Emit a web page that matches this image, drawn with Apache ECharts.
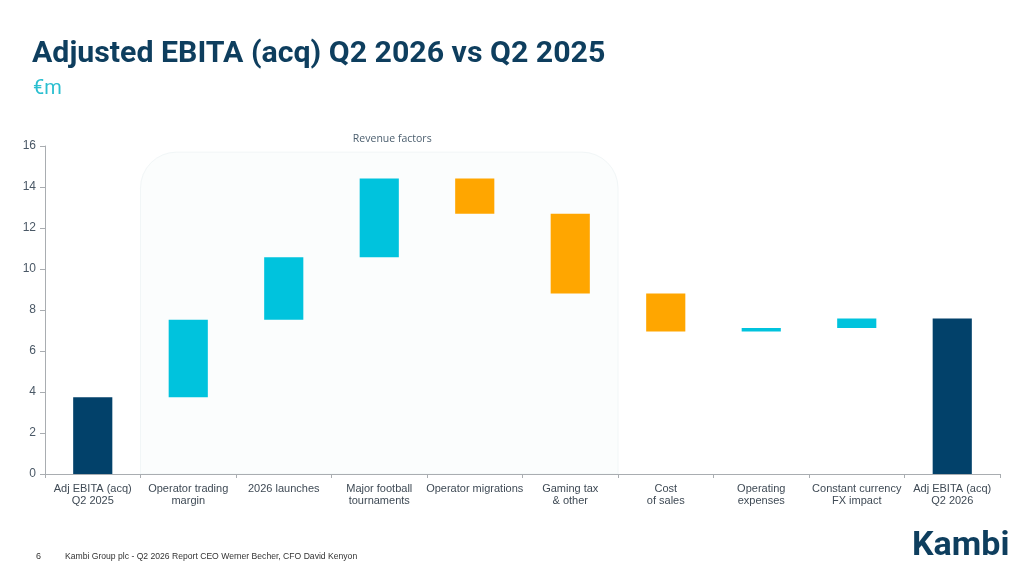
<!DOCTYPE html>
<html>
<head>
<meta charset="utf-8">
<script src="https://cdn.jsdelivr.net/npm/echarts@6/dist/echarts.min.js"></script>
<style>
html,body{margin:0;padding:0;background:#fff;}
#chart{width:1024px;height:577px;}
</style>
</head>
<body>
<div id="chart"></div>
<script>
// ---- data ----
var categories = [
  'Adj EBITA (acq)\nQ2 2025',
  'Operator trading\nmargin',
  '2026 launches',
  'Major football\ntournaments',
  'Operator migrations',
  'Gaming tax\n& other',
  'Cost\nof sales',
  'Operating\nexpenses',
  'Constant currency\nFX impact',
  'Adj EBITA (acq)\nQ2 2026'
];
// bar start and end levels (€m)
var startLevels = [0,    3.75, 7.53, 10.57, 14.41, 12.70, 8.81, 6.95, 7.12, 0];
var endLevels   = [3.75, 7.53, 10.57, 14.41, 12.70, 8.81, 6.95, 7.12, 7.59, 7.59];
var barKinds    = ['total','up','up','up','down','down','down','up','up','total'];
var yTicks = [0, 2, 4, 6, 8, 10, 12, 14, 16];

var colors = {total:'#02416a', up:'#00c3dd', down:'#ffa600'};

var helper = startLevels.map(function(s,i){ return Math.min(s, endLevels[i]); });
var visible = startLevels.map(function(s,i){
  return {value: Math.abs(endLevels[i]-s), itemStyle:{color: colors[barKinds[i]]}};
});

var chart = echarts.init(document.getElementById('chart'));
var option = {
  animation:false,
  backgroundColor:'#ffffff',
  grid:{left:45, right:24, top:146, bottom:103, containLabel:false},
  xAxis:{
    type:'category',
    data:categories,
    axisLine:{lineStyle:{color:'#a9adb1', width:1}},
    axisTick:{show:true, length:4, lineStyle:{color:'#a9adb1'}},
    axisLabel:{interval:0, color:'#3f4a55', fontSize:11, fontFamily:'Liberation Sans, Arial, sans-serif', lineHeight:12, margin:9}
  },
  yAxis:{
    type:'value', min:yTicks[0], max:yTicks[yTicks.length-1], interval:2,
    axisLine:{show:true, lineStyle:{color:'#a9adb1'}},
    axisTick:{show:true, length:5, lineStyle:{color:'#a9adb1'}},
    splitLine:{show:false},
    axisLabel:{color:'#4a5866', fontSize:12, fontFamily:'Liberation Sans, Arial, sans-serif', margin:9}
  },
  series:[
    {type:'bar', stack:'w', data:helper, barWidth:'41%', itemStyle:{color:'rgba(0,0,0,0)'}, silent:true},
    {type:'bar', stack:'w', data:visible, barWidth:'41%'}
  ]
};
chart.setOption(option);

// decorative "Revenue factors" panel, positioned from the axis scale
var c1 = chart.convertToPixel({xAxisIndex:0}, 1);
var c2 = chart.convertToPixel({xAxisIndex:0}, 2);
var c5 = chart.convertToPixel({xAxisIndex:0}, 5);
var band = c2 - c1;
var yTop = chart.convertToPixel({yAxisIndex:0}, 15.7);
var yBot = chart.convertToPixel({yAxisIndex:0}, 0);
var boxL = c1 - band/2, boxR = c5 + band/2;

chart.setOption({
  graphic:[
    {type:'rect', z:-1, shape:{x:boxL, y:yTop, width:boxR-boxL, height:yBot-yTop, r:[36,36,0,0]},
     style:{fill:'#fbfdfd', stroke:'#f1f6f7', lineWidth:1}},
    {type:'text', x:(boxL+boxR)/2 + 13, y:139, style:{text:'Revenue factors', fill:'#4b5e6e', font:'10.5px "Open Sans", sans-serif', align:'center', verticalAlign:'middle'}},
    {type:'text', x:32, y:54, style:{text:'Adjusted EBITA (acq) Q2 2026 vs Q2 2025', fill:'#0e3e5e', font:'bold 30.3px Roboto, sans-serif', verticalAlign:'middle'}},
    {type:'text', x:33, y:89, style:{text:'€m', fill:'#2bbfd0', font:'20px Roboto, sans-serif', verticalAlign:'middle'}},
    {type:'text', x:36, y:557, style:{text:'6', fill:'#333', font:'9px "Liberation Sans", sans-serif', verticalAlign:'middle'}},
    {type:'text', x:65, y:557, style:{text:'Kambi Group plc - Q2 2026 Report CEO Werner Becher, CFO David Kenyon', fill:'#333', font:'8.6px "Liberation Sans", sans-serif', verticalAlign:'middle'}},
    {type:'text', x:912, y:546, style:{text:'Kambi', fill:'#0e3e5e', font:'bold 34px Roboto, sans-serif', verticalAlign:'middle'}}
  ]
});
</script>
</body>
</html>
